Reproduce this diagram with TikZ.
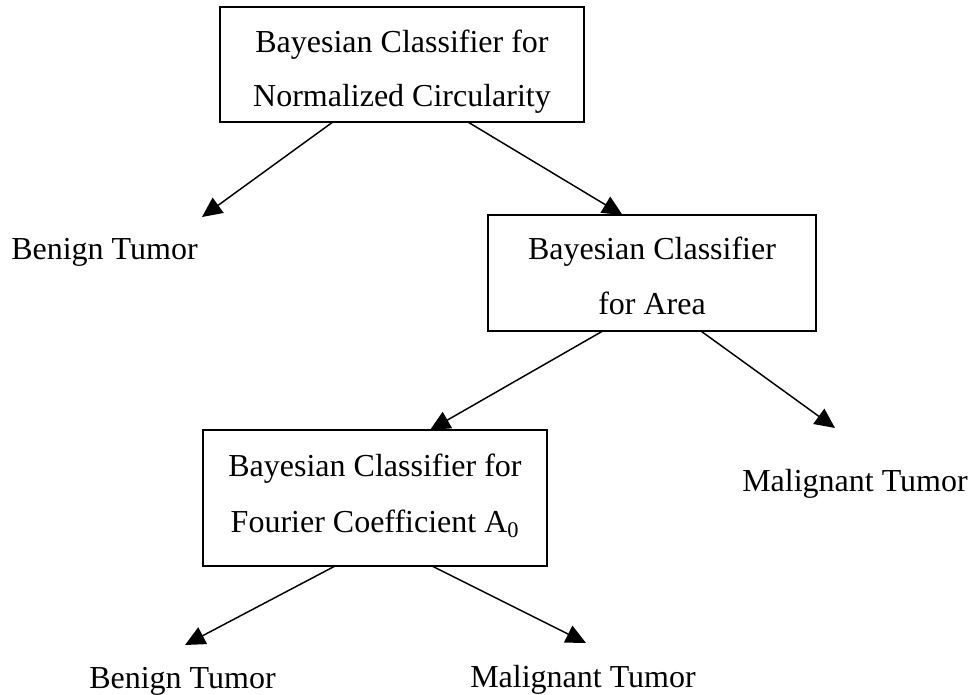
\documentclass[tikz,border=0pt]{standalone}
\usepackage{fontspec}
\setmainfont{Liberation Serif}
\usetikzlibrary{arrows.meta,calc}
\tikzset{
  box/.style={draw, line width=1pt, inner sep=0pt, outer sep=0pt},
  txt/.style={anchor=base, inner sep=0pt, font=\fontsize{24}{29}\selectfont},
  conn/.style={line width=1.1pt, -{Triangle[length=15pt,width=14pt]}}
}
\begin{document}
\begin{tikzpicture}[x=0.75pt,y=-0.75pt]
\useasboundingbox (0,0) rectangle (976,695);
% boxes
\node[box, minimum width=273pt, minimum height=86.25pt] (b1) at (402,64.5) {};
\node[box, minimum width=246pt, minimum height=87pt] (b2) at (652,273) {};
\node[box, minimum width=258pt, minimum height=102pt] (b3) at (375,498) {};
% box texts
\node[txt] (b1l1) at (402,53) {Bayesian Classifier for};
\node[txt] (b1l2) at (402,107) {Normalized Circularity};
\node[txt] (b2l1) at (652,260) {Bayesian Classifier};
\node[txt] (b2l2) at (652,315) {for Area};
\node[txt] (b3l1) at (375,477) {Bayesian Classifier for};
\node[txt] (b3l2) at (375,533) {Fourier Coefficient A\textsubscript{0}};
% leaf labels
\node[txt] (ben1) at (104.5,260) {Benign Tumor};
\node[txt] (mal1) at (855,492) {Malignant Tumor};
\node[txt] (ben2) at (182.5,688) {Benign Tumor};
\node[txt] (mal2) at (583,687) {Malignant Tumor};
% arrow tips
\coordinate (t1) at (202,217);
\coordinate (t4) at (835,428);
\coordinate (t5) at (185,645);
\coordinate (t6) at (586,643);
% connectors
\draw[conn] ($(b1.south west)!0.31!(b1.south east)$) -- (t1);
\draw[conn] ($(b1.south west)!0.681!(b1.south east)$) -- ($(b2.north west)!0.41!(b2.north east)$);
\draw[conn] ($(b2.south west)!0.35!(b2.south east)$) -- ($(b3.north west)!0.66!(b3.north east)$);
\draw[conn] ($(b2.south west)!0.649!(b2.south east)$) -- (t4);
\draw[conn] ($(b3.south west)!0.384!(b3.south east)$) -- (t5);
\draw[conn] ($(b3.south west)!0.666!(b3.south east)$) -- (t6);
\end{tikzpicture}
\end{document}
